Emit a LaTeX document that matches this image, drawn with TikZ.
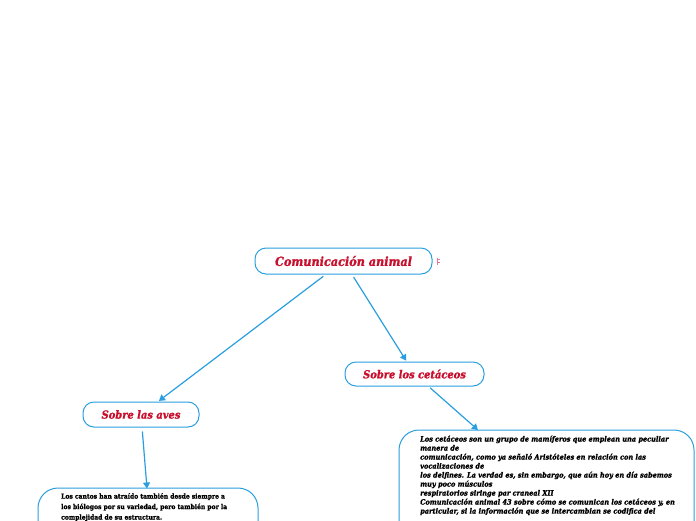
\documentclass[tikz,border=0pt]{standalone}
\usepackage{fontspec}
\setmainfont{DejaVu Serif Condensed}[BoldFeatures={FakeBold=1.3}, BoldItalicFeatures={FakeBold=1.3}]
\usetikzlibrary{arrows.meta}
\definecolor{lineblue}{HTML}{2A9FDF}
\definecolor{titlered}{HTML}{C8102E}
\definecolor{iconpink}{HTML}{E07A9A}
\tikzset{
  topic/.style={draw=lineblue, line width=1pt, rounded corners=11pt, fill=white,
    font=\bfseries\itshape\fontsize{11}{12}\selectfont, text=titlered, inner sep=0pt},
  link/.style={draw=lineblue, line width=1.2pt, -{Triangle[width=7pt,length=6pt]}},
  bigbox/.style={draw=lineblue, line width=1pt},
  bodytext/.style={anchor=north west, align=left, inner sep=0pt, text=black}
}
\begin{document}
\begin{tikzpicture}[x=1pt,y=-1pt]
\useasboundingbox (0,0) rectangle (696,520);
\clip (0,0) rectangle (696,520);
\fill[white] (0,0) rectangle (696,520);

\node[topic, minimum width=177pt, minimum height=26pt, font=\bfseries\itshape\fontsize{12.5}{13}\selectfont] (main) at (343.5,261) {Comunicación animal};
\node[topic, minimum width=139pt, minimum height=24pt] (ceta) at (414.5,374) {Sobre los cetáceos};
\node[topic, minimum width=116pt, minimum height=25pt] (aves) at (141,414.5) {Sobre las aves};

% icon
\draw[iconpink, line width=0.6pt] (437,257.5) -- (437,265);
\draw[iconpink, line width=0.6pt] (438,259.5) -- (440,259.5) (438,262.5) -- (440,262.5);

% big text boxes
\draw[bigbox, rounded corners=20pt] (399,430) rectangle (694,580);
\node[bodytext, font=\bfseries\itshape\fontsize{7.3}{9}\selectfont] (cetatext) at (420,435.5) {%
Los cetáceos son un grupo de mamíferos que emplean una peculiar\\
manera de\\
comunicación, como ya señaló Aristóteles en relación con las\\
vocalizaciones de\\
los delfines. La verdad es, sin embargo, que aún hoy en día sabemos\\
muy poco músculos\\
respiratorios siringe par craneal XII\\
Comunicación animal 43 sobre cómo se comunican los cetáceos y, en\\
particular, si la información que se intercambian se codifica del};

\draw[bigbox, rounded corners=20pt] (38,488) rectangle (258,580);
\node[bodytext, font=\bfseries\fontsize{6.7}{10.5}\selectfont] (avestext) at (61,493) {%
Los cantos han atraído también desde siempre a\\
los biólogos por su variedad, pero también por la\\
complejidad de su estructura.};

\coordinate (cetain) at (478,430);
\coordinate (avesin) at (147,488.5);

% connectors
\draw[link, shorten <=3pt, shorten >=1pt] (main) -- (aves);
\draw[link, shorten <=3pt, shorten >=1pt] (main) -- (ceta);
\draw[link, shorten <=2pt] (ceta) -- (cetain);
\draw[link, shorten <=4pt] (aves) -- (avesin);
\end{tikzpicture}
\end{document}
